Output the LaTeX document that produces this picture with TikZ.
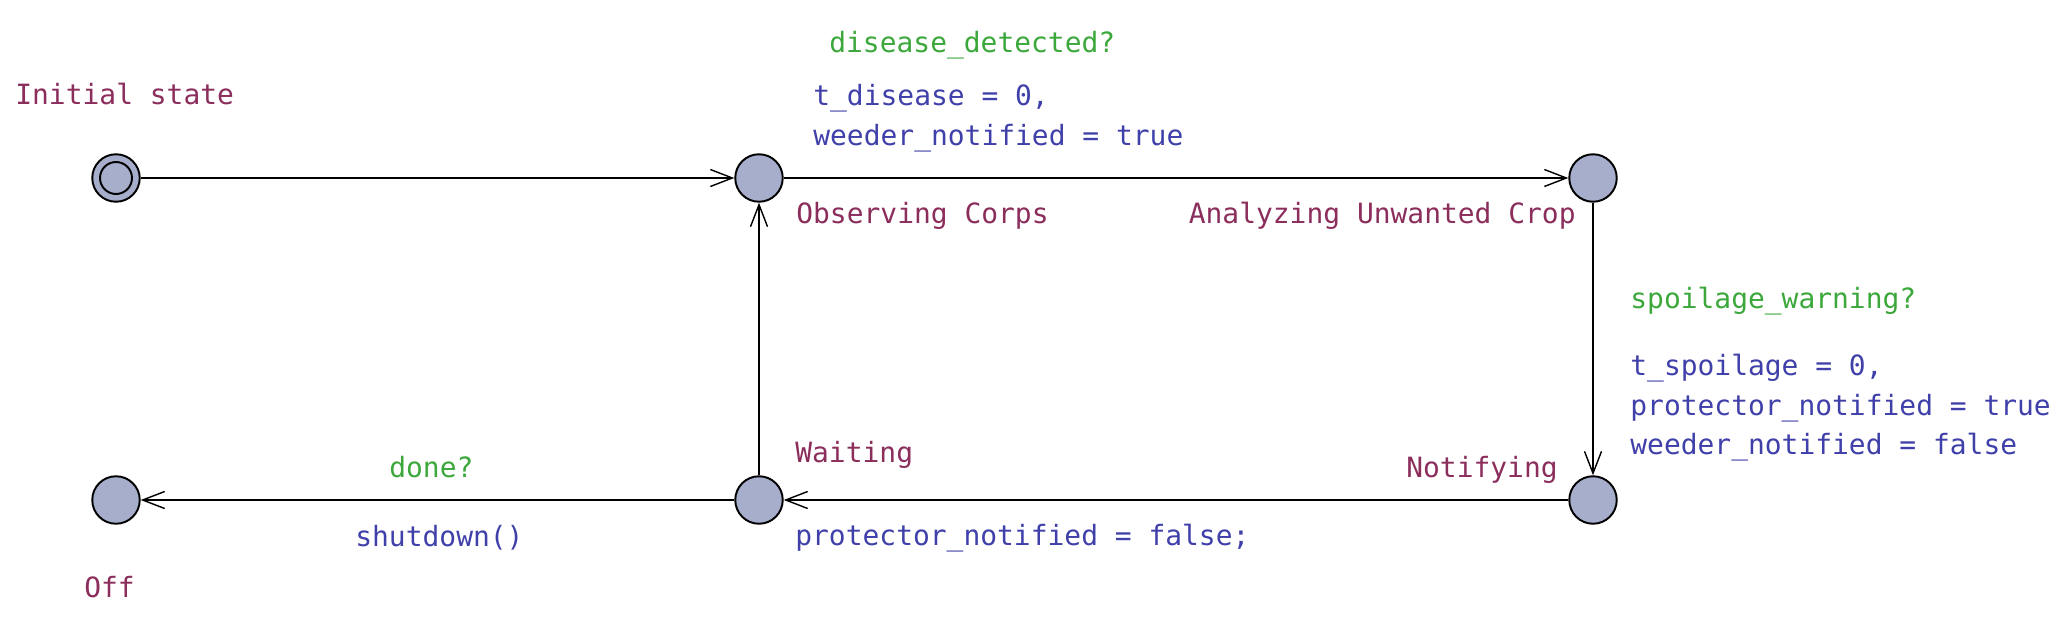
\documentclass[tikz,border=0pt]{standalone}
\usepackage{fontspec}
\setmonofont{DejaVu Sans Mono}
\usetikzlibrary{arrows.meta}

\definecolor{locname}{RGB}{139,46,92}
\definecolor{syncgreen}{RGB}{60,168,60}
\definecolor{updblue}{RGB}{64,64,170}
\definecolor{locfill}{RGB}{166,174,204}

\begin{document}
\begin{tikzpicture}[x=0.02cm, y=-0.02cm,
    loc/.style={circle, draw, fill=locfill, line width=1.1pt, minimum size=0.95cm, inner sep=0},
    lbl/.style={inner sep=0, font=\ttfamily\fontsize{15.9}{19}\selectfont},
    locpen/.style={lbl, text=locname},
    syncpen/.style={lbl, text=syncgreen},
    updpen/.style={lbl, text=updblue},
    trans/.style={line width=0.8pt, -{Straight Barb[length=0.44cm, width=0.34cm]}}]
    \useasboundingbox (0, 0) rectangle (2062, 642);

    % locations
    \node[loc] (init) at (116, 178) {};
    \draw[line width=1.1pt] (init) circle (0.32cm);
    \node[loc] (observe) at (759, 178) {};
    \node[loc] (analyze) at (1593, 178) {};
    \node[loc] (notify) at (1593, 500) {};
    \node[loc] (wait) at (759, 500) {};
    \node[loc] (off) at (116, 500) {};

    % location names
    \node[locpen, anchor=base west] (initname) at (15, 105) {Initial state};
    \node[locpen, anchor=base west] (observename) at (796, 223) {Observing Corps};
    \node[locpen, anchor=base east] (analyzename) at (1576, 223) {Analyzing Unwanted Crop};
    \node[locpen, anchor=base east] (notifyname) at (1558, 477) {Notifying};
    \node[locpen, anchor=base west] (waitname) at (795, 462) {Waiting};
    \node[locpen, anchor=base west] (offname) at (84, 597) {Off};

    % transitions
    \draw[trans] (init) -- (observe);
    \draw[trans] (observe) -- (analyze);
    \draw[trans] (analyze) -- (notify);
    \draw[trans] (notify) -- (wait);
    \draw[trans] (wait) -- (observe);
    \draw[trans] (wait) -- (off);

    % synchronisations and updates
    \node[syncpen, anchor=base west] (s1) at (829, 53) {disease\_detected?};
    \node[updpen, anchor=base west] (u1a) at (813, 106) {t\_disease = 0,};
    \node[updpen, anchor=base west] (u1b) at (813, 146) {weeder\_notified = true};

    \node[syncpen, anchor=base west] (s2) at (1630, 308) {spoilage\_warning?};
    \node[updpen, anchor=base west] (u2a) at (1630, 375) {t\_spoilage = 0,};
    \node[updpen, anchor=base west] (u2b) at (1630, 415) {protector\_notified = true};
    \node[updpen, anchor=base west] (u2c) at (1630, 454) {weeder\_notified = false};

    \node[updpen, anchor=base west] (u3) at (795, 545) {protector\_notified = false;};

    \node[syncpen, anchor=base west] (s4) at (389, 477) {done?};
    \node[updpen, anchor=base west] (u4) at (355, 546) {shutdown()};
\end{tikzpicture}
\end{document}
